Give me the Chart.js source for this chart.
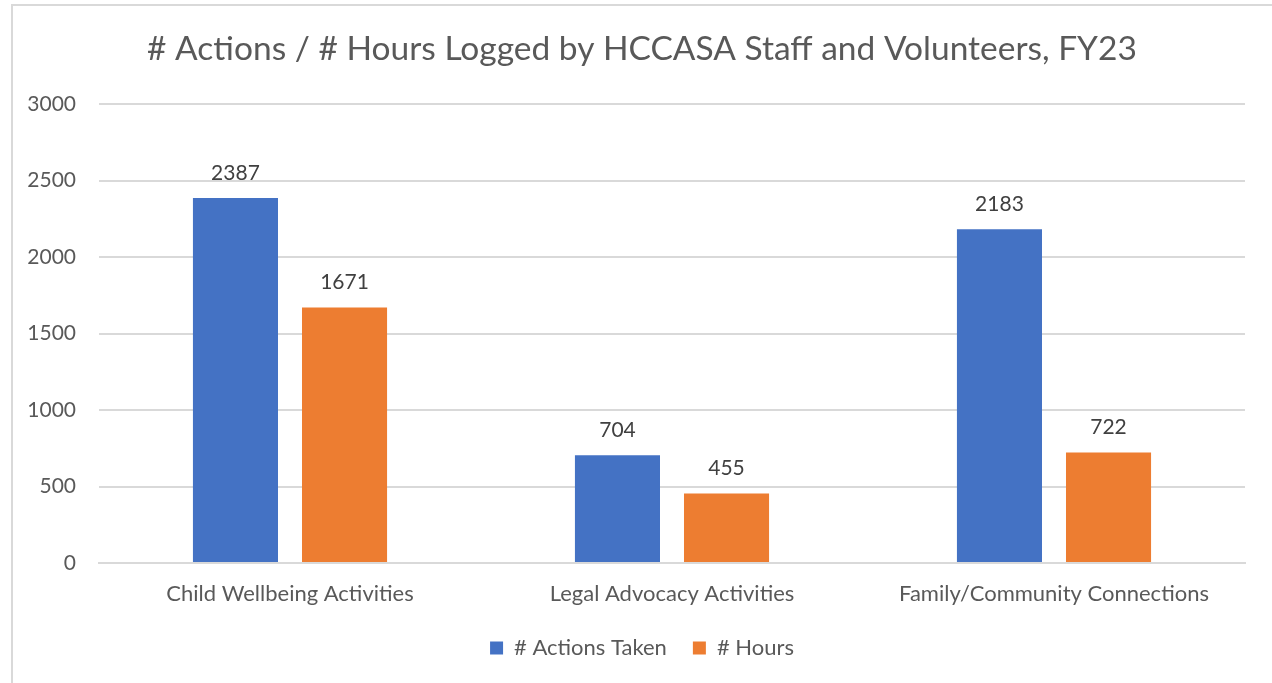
<!DOCTYPE html>
<html>
<head>
<meta charset="utf-8">
<script src="https://cdn.jsdelivr.net/npm/chart.js@4"></script>
<style>
  html, body { margin: 0; padding: 0; background: #fff; }
  #frame { position: absolute; left: 11px; top: 4px; width: 1300px; height: 720px;
           border-left: 2px solid #d9d9d9; border-top: 2px solid #d9d9d9; }
  #wrap { position: absolute; left: 0; top: 0; width: 1272px; height: 683px; }
</style>
</head>
<body>
<div id="frame"></div>
<div id="wrap"><canvas id="chart"></canvas></div>
<script>
// Values
const categories = ['Child Wellbeing Activities', 'Legal Advocacy Activities', 'Family/Community Connections'];
const actionsTaken = [2387, 704, 2183];
const hoursLogged = [1671, 455, 722];
const yTicks = [0, 500, 1000, 1500, 2000, 2500, 3000];

const FONT = 'Lato, Calibri, sans-serif';
const GREY = '#595959';

// widest y label, so mirrored ticks can sit right-aligned left of the plot
const measure = document.createElement('canvas').getContext('2d');
measure.font = '21px ' + FONT;
const widestTick = Math.max(...yTicks.map(v => measure.measureText(String(v)).width));

// Draw the value above each bar
const barLabels = {
    id: 'barLabels',
    afterDatasetsDraw(chart) {
        const ctx = chart.ctx;
        ctx.save();
        ctx.font = '21px ' + FONT;
        ctx.fillStyle = '#404040';
        ctx.textAlign = 'center';
        ctx.textBaseline = 'middle';
        chart.data.datasets.forEach((ds, i) => {
            chart.getDatasetMeta(i).data.forEach((bar, j) => {
                ctx.fillText(ds.data[j], bar.x, bar.y - 25);
            });
        });
        ctx.restore();
    }
};

const ctx = document.getElementById('chart').getContext('2d');
new Chart(ctx, {
    type: 'bar',
    data: {
        labels: categories,
        datasets: [
            { label: '# Actions Taken', data: actionsTaken, backgroundColor: '#4472C4' },
            { label: '# Hours', data: hoursLogged, backgroundColor: '#ED7D31' }
        ]
    },
    options: {
        responsive: true,
        maintainAspectRatio: false,
        animation: false,
        layout: { padding: { left: 39, right: 27, top: 20, bottom: 14 } },
        datasets: { bar: { categoryPercentage: 0.571, barPercentage: 0.78 } },
        plugins: {
            title: {
                display: true,
                text: '# Actions / # Hours Logged by HCCASA Staff and Volunteers, FY23',
                color: GREY,
                font: { family: FONT, size: 33.5, weight: 'normal' },
                padding: { top: 9, bottom: 35 }
            },
            legend: {
                position: 'bottom',
                labels: {
                    color: GREY,
                    font: { family: FONT, size: 22 },
                    boxWidth: 13, boxHeight: 13,
                    padding: 26
                }
            },
            tooltip: { enabled: false }
        },
        scales: {
            x: {
                grid: { display: false },
                border: { color: '#d9d9d9', width: 2 },
                ticks: { color: GREY, font: { family: FONT, size: 22 }, padding: 10 },
                afterFit(scale) { scale.height = 48; }
            },
            y: {
                min: 0, max: 3000,
                afterBuildTicks(scale) { scale.ticks = yTicks.map(v => ({ value: v })); },
                grid: { color: '#d9d9d9', lineWidth: 2, drawTicks: false },
                border: { display: false },
                ticks: {
                    color: GREY, font: { family: FONT, size: 21 },
                    mirror: true, crossAlign: 'far',
                    padding: -23 - widestTick,
                    callback: v => String(v)
                },
                afterFit(scale) { scale.width = 60; }
            }
        }
    },
    plugins: [barLabels]
});
</script>
</body>
</html>
